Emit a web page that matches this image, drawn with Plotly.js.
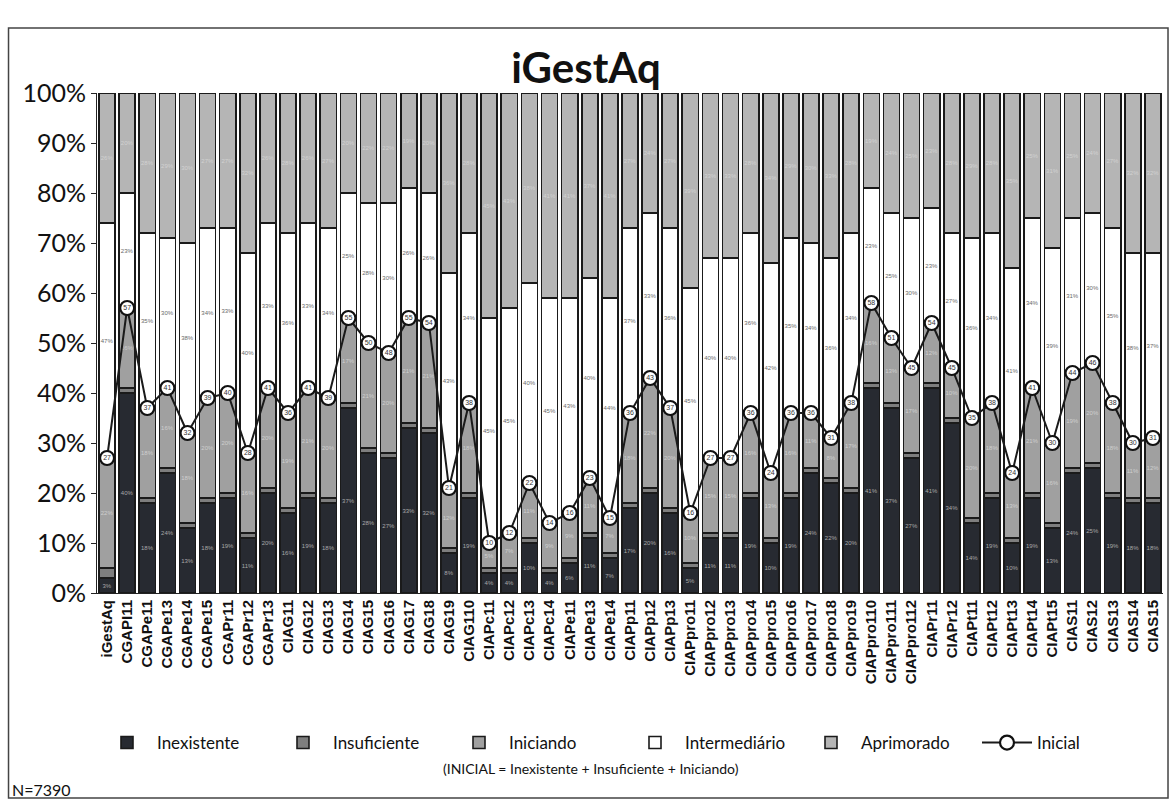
<!DOCTYPE html>
<html><head><meta charset="utf-8">
<script src="https://cdn.plot.ly/plotly-3.0.1.min.js"></script>
<style>html,body{margin:0;padding:0;background:#fff}#chart{width:1172px;height:800px}</style>
</head><body><div id="chart"></div>
<script>
const categories = ['iGestAq','CGAPI11','CGAPe11','CGAPe13','CGAPe14','CGAPe15','CGAPr11','CGAPr12','CGAPr13',
  'CIAG11','CIAG12','CIAG13','CIAG14','CIAG15','CIAG16','CIAG17','CIAG18','CIAG19','CIAG110',
  'CIAPc11','CIAPc12','CIAPc13','CIAPc14','CIAPe11','CIAPe13','CIAPe14','CIAPp11','CIAPp12','CIAPp13',
  'CIAPpro11','CIAPpro12','CIAPpro13','CIAPpro14','CIAPpro15','CIAPpro16','CIAPpro17','CIAPpro18','CIAPpro19',
  'CIAPpro110','CIAPpro111','CIAPpro112','CIAPr11','CIAPr12','CIAPt11','CIAPt12','CIAPt13','CIAPt14','CIAPt15',
  'CIAS11','CIAS12','CIAS13','CIAS14','CIAS15'];
const inexistente   = [3,40,18,24,13,18,19,11,20,16,19,18,37,28,27,33,32,8,19,4,4,10,4,6,11,7,17,20,16,5,11,11,19,10,19,24,22,20,41,37,27,41,34,14,19,10,19,13,24,25,19,18,18];
const insuficiente  = [2,1,1,1,1,1,1,1,1,1,1,1,1,1,1,1,1,1,1,1,1,1,1,1,1,1,1,1,1,1,1,1,1,1,1,1,1,1,1,1,1,1,1,1,1,1,1,1,1,1,1,1,1];
const iniciando     = [22,16,18,16,18,20,20,16,20,19,21,20,17,21,20,21,21,12,18,5,7,11,9,9,11,7,18,22,20,10,15,15,16,13,16,11,8,17,16,13,17,12,10,20,18,13,21,16,19,20,18,11,12];
const intermediario = [47,23,35,30,38,34,33,40,33,36,33,34,25,28,30,26,26,43,34,45,45,40,45,43,40,44,37,33,36,45,40,40,36,42,35,34,36,34,23,25,30,23,27,36,34,41,34,39,31,30,35,38,37];
const aprimorado    = [26,20,28,29,30,27,27,32,26,28,26,27,20,22,22,19,20,36,28,45,43,38,41,41,37,41,27,24,27,39,33,33,28,34,29,30,33,28,19,24,25,23,28,29,28,35,25,31,25,24,27,32,32];
const inicial       = [27,57,37,41,32,39,40,28,41,36,41,39,55,50,48,55,54,21,38,10,12,22,14,16,23,15,36,43,37,16,27,27,36,24,36,36,31,38,58,51,45,54,45,35,38,24,41,30,44,46,38,30,31];

const seriesNames = ['Inexistente','Insuficiente','Iniciando','Intermediário','Aprimorado'];
const seriesValues = [inexistente, insuficiente, iniciando, intermediario, aprimorado];
const colors = ['#272a31','#7e7e7e','#a0a0a0','#ffffff','#b5b5b5'];
const textColors = ['#a8a8a8','#cfcfcf','#cfcfcf','#6a6a6a','#d2d2d2'];

const traces = seriesValues.map((v, i) => ({
  type: 'bar', name: seriesNames[i], x: categories, y: v,
  marker: {color: colors[i], line: {color: '#1a1a1a', width: 1.6}},
  text: v.map(d => d >= 3 ? d + '%' : ''), textposition: 'inside', insidetextanchor: 'middle', textangle: 0,
  constraintext: 'none',
  textfont: {size: 6, color: textColors[i], family: 'Liberation Sans, Arial'},
  hoverinfo: 'skip'
}));
traces.push({
  type: 'scatter', mode: 'lines+markers+text', name: 'Inicial', x: categories, y: inicial,
  line: {color: '#1a1a1a', width: 2},
  marker: {symbol: 'circle', size: 14, color: '#ffffff', line: {color: '#111111', width: 2.2}},
  text: inicial.map(String), textposition: 'middle center',
  textfont: {size: 7, color: '#333', family: 'Liberation Sans, Arial'},
  hoverinfo: 'skip', cliponaxis: false
});

const layout = {
  width: 1172, height: 800, paper_bgcolor: '#ffffff', plot_bgcolor: '#ffffff',
  margin: {l: 97, r: 9, t: 93, b: 207},
  barmode: 'stack', bargap: 0.2,
  showlegend: true,
  title: {text: '<b>iGestAq</b>', font: {family: 'Lato', size: 42, color: '#111'},
          x: 0.5, xanchor: 'center', y: 1 - 68/800, yanchor: 'middle'},
  xaxis: {type: 'category', range: [-0.5, categories.length - 0.5], tickangle: -90, automargin: false,
          tickfont: {family: 'Liberation Sans, Arial', size: 15, color: '#111', weight: 'bold'},
          showline: true, linecolor: '#222', linewidth: 1, ticks: '', showgrid: false},
  yaxis: {range: [0, 100], dtick: 10, ticksuffix: '%', automargin: false,
          tickfont: {family: 'Lato', size: 25, color: '#111'},
          showline: true, linecolor: '#222', linewidth: 1, ticks: 'outside', ticklen: 5, tickcolor: '#222',
          showgrid: false, zeroline: false},
  legend: {orientation: 'h', x: 0.0, xanchor: 'left', y: -0.3, yanchor: 'middle',
           font: {family: 'Lato', size: 17, color: '#111'}, traceorder: 'normal', itemwidth: 50,
           entrywidth: 111, bgcolor: 'rgba(0,0,0,0)'},
  annotations: [
    {text: '(INICIAL = Inexistente + Insuficiente + Iniciando)', xref: 'paper', yref: 'paper',
     x: 0.4635, y: -0.35, xanchor: 'center', yanchor: 'middle', showarrow: false,
     font: {family: 'Lato', size: 14, color: '#111'}},
    {text: 'N=7390', xref: 'paper', yref: 'paper', x: -0.0815, y: -0.392, xanchor: 'left', yanchor: 'middle',
     showarrow: false, font: {family: 'Lato', size: 16, color: '#111'}}
  ],
  shapes: [
    {type: 'rect', xref: 'paper', yref: 'paper', x0: -0.083, x1: 1.0047, y0: -0.41, y1: 1.13,
     line: {color: '#444', width: 1.5}, fillcolor: 'rgba(0,0,0,0)', layer: 'below'}
  ]
};

Plotly.newPlot('chart', traces, layout, {displayModeBar: false, staticPlot: true});
</script>
</body></html>
